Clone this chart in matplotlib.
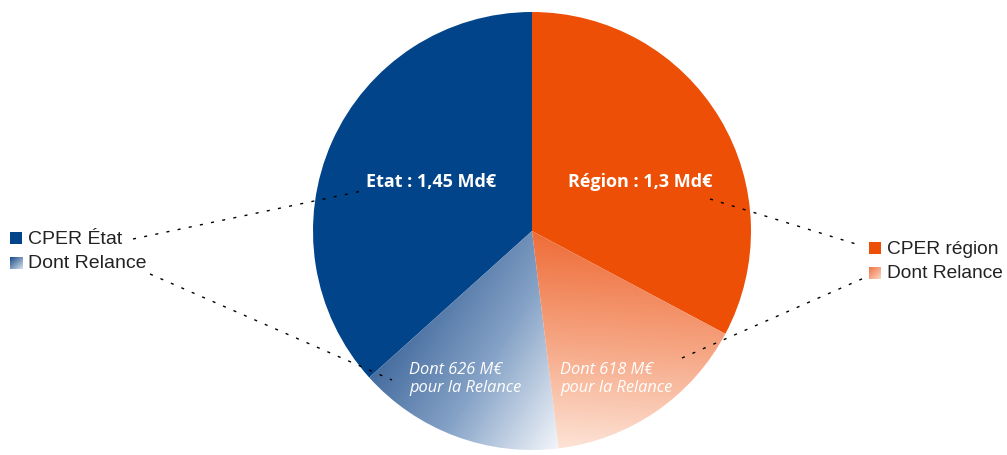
import numpy as np
import matplotlib.pyplot as plt
from matplotlib.colors import LinearSegmentedColormap
from matplotlib.patches import Rectangle

# ── Data ──────────────────────────────────────────────────────────────────────
# wedge sizes as drawn (degrees), clockwise from 12 o'clock
SLICES     = ["Région hors relance", "Région relance", "Etat relance", "Etat hors relance"]
SIZES      = [118, 55, 55, 132]
TOTAL_TXT  = ["Etat : 1,45 Md€", "Région : 1,3 Md€"]
RELANCE    = ["Dont 626 M€\npour la Relance", "Dont 618 M€\npour la Relance"]
LEG_ETAT   = ["CPER État", "Dont Relance"]
LEG_REGION = ["CPER région", "Dont Relance"]

BLUE, ORANGE = "#01448a", "#ec4f05"
BLUE_GRAD   = LinearSegmentedColormap.from_list("bg", ["#3f679b", "#86a3c7", "#f3f6fa"])
ORANGE_GRAD = LinearSegmentedColormap.from_list("og", ["#ee6a35", "#f6a582", "#fde6da"])

W, H = 1007, 456
CX, CY, R = 532, 224, 219

fig = plt.figure(figsize=(W / 100, H / 100), dpi=100)
ax = fig.add_axes([0, 0, 1, 1])

wedges, _ = ax.pie(SIZES, colors=[ORANGE, "none", "none", BLUE], startangle=90,
                   counterclock=False, center=(CX, CY), radius=R,
                   wedgeprops=dict(linewidth=0))
ax.set_xlim(0, W)
ax.set_ylim(0, H)
ax.set_aspect("equal")
ax.axis("off")

FULL = (CX - R - 2, CX + R + 2, CY - R - 2, CY + R + 2)


def gradient_fill(patch, cmap, p0, p1):
    x0, x1, y0, y1 = FULL
    xs, ys = np.meshgrid(np.linspace(x0, x1, 400), np.linspace(y0, y1, 400))
    d = np.array(p1) - np.array(p0)
    t = ((xs - p0[0]) * d[0] + (ys - p0[1]) * d[1]) / (d @ d)
    im = ax.imshow(np.clip(t, 0, 1), cmap=cmap, vmin=0, vmax=1, extent=FULL,
                   origin="lower", interpolation="bilinear", zorder=1)
    im.set_clip_path(patch)


gradient_fill(wedges[2], BLUE_GRAD, (380, 110), (555, 0))
gradient_fill(wedges[1], ORANGE_GRAD, (600, CY), (585, 0))

# ── Slice labels ──────────────────────────────────────────────────────────────
ax.text(431, 274, TOTAL_TXT[0], color="white", fontsize=13, fontweight="bold",
        family="Open Sans", ha="center", va="center", zorder=3)
ax.text(640, 274, TOTAL_TXT[1], color="white", fontsize=13, fontweight="bold",
        family="Open Sans", ha="center", va="center", zorder=3)
ax.text(409, 77, RELANCE[0], color="white", fontsize=11.8, style="italic",
        family="Open Sans", ha="left", va="center", linespacing=1.15, zorder=3)
ax.text(560, 77, RELANCE[1], color="white", fontsize=11.8, style="italic",
        family="Open Sans", ha="left", va="center", linespacing=1.15, zorder=3)

# ── Legends ───────────────────────────────────────────────────────────────────
def swatch(x, y, color=None, cmap=None):
    if cmap is None:
        ax.add_patch(Rectangle((x, y), 12, 12, color=color, lw=0, zorder=3))
    else:
        g = np.add.outer(np.linspace(1, 0, 20), np.linspace(0, 1, 20)) / 2
        ax.imshow(g, cmap=cmap, vmin=0, vmax=1, extent=(x, x + 12, y, y + 12),
                  origin="lower", zorder=3)


legend_etat_cmap = LinearSegmentedColormap.from_list("le", ["#1c4c88", "#d3dfec"])
legend_reg_cmap  = LinearSegmentedColormap.from_list("lr", ["#ef7444", "#fbd6c5"])

swatch(10, 211, color=BLUE)
swatch(10, 186, cmap=legend_etat_cmap)
swatch(869, 201, color=ORANGE)
swatch(869, 176, cmap=legend_reg_cmap)

for y, txt in zip([217, 192], LEG_ETAT):
    ax.text(28, y, txt, fontsize=14, family="Liberation Sans", color="#222222",
            ha="left", va="center", zorder=3)
for y, txt in zip([207, 182], LEG_REGION):
    ax.text(887, y, txt, fontsize=13.8, family="Liberation Sans", color="#222222",
            ha="left", va="center", zorder=3)

# ── Leader lines ──────────────────────────────────────────────────────────────
dash = dict(color="black", lw=1.0, ls=(0, (2.2, 6)), zorder=4)
ax.plot([133, 362], [216, 264], **dash)
ax.plot([150, 392], [181, 75], **dash)
ax.plot([710, 856], [256, 211], **dash)
ax.plot([682, 864], [97, 177], **dash)

fig.savefig("out.png", dpi=100)
